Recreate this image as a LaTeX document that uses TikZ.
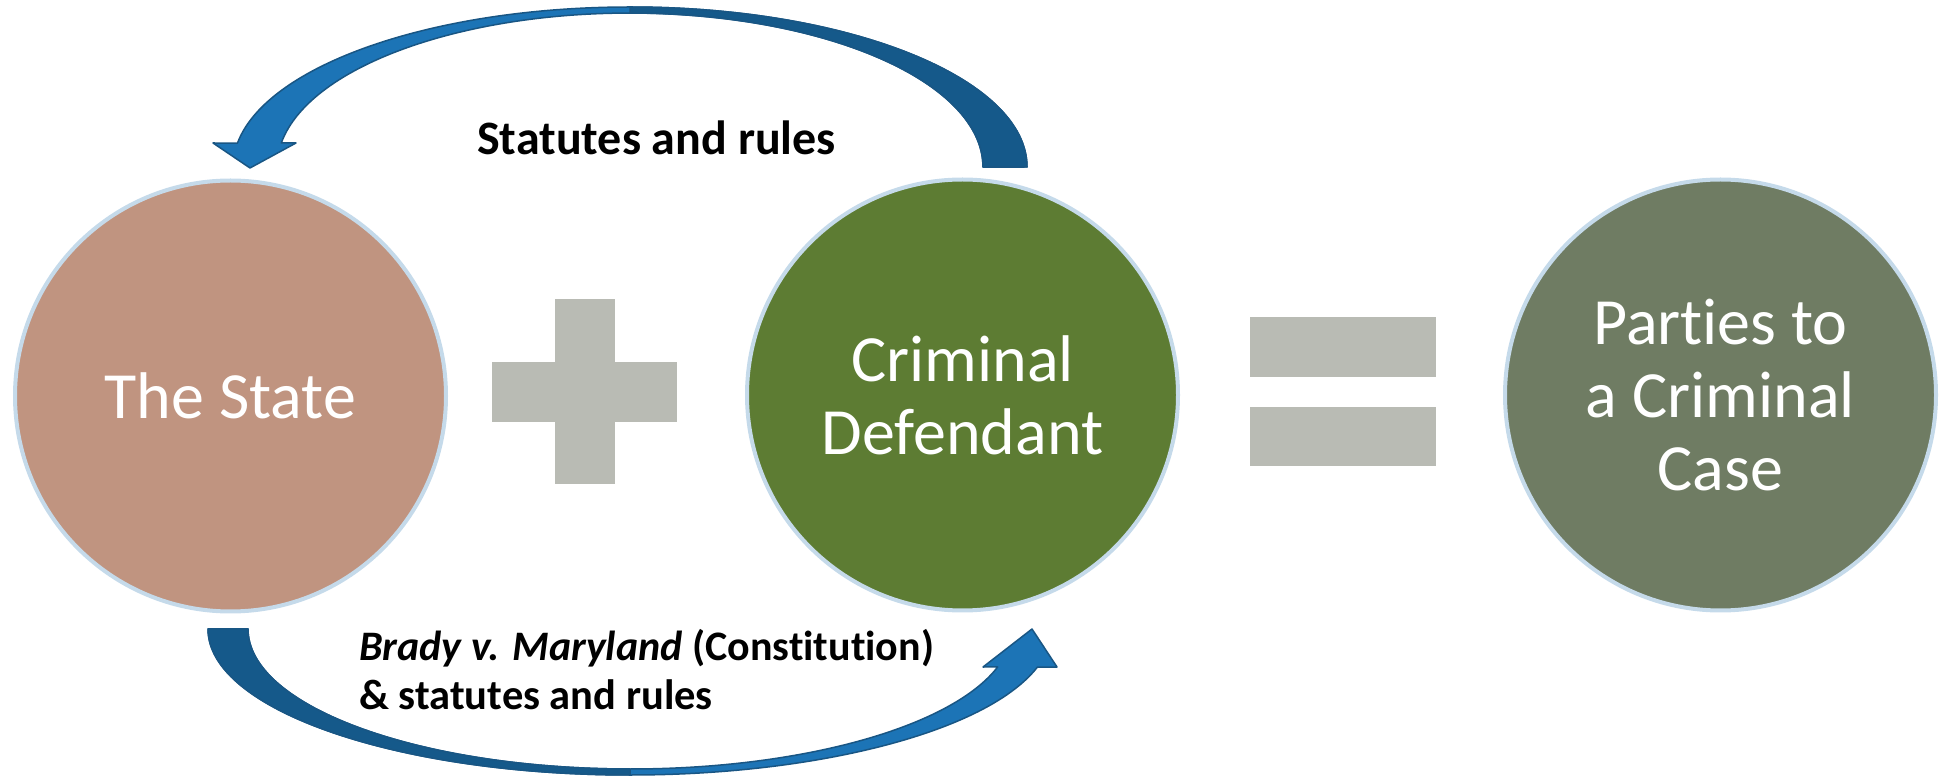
\documentclass[tikz,border=0pt]{standalone}
\usepackage{fontspec}
\setmainfont{Carlito}[Ligatures={NoCommon}]
\definecolor{stateC}{RGB}{192,148,128}
\definecolor{defC}{RGB}{93,124,51}
\definecolor{partyC}{RGB}{111,124,99}
\definecolor{ringC}{RGB}{197,218,234}
\definecolor{signC}{RGB}{185,187,180}
\definecolor{arrowL}{RGB}{28,116,182}
\definecolor{arrowD}{RGB}{21,89,138}
\definecolor{arrowO}{RGB}{25,86,132}
\begin{document}
\begin{tikzpicture}[x=1pt,y=1pt,
  party/.style={circle, draw=ringC, line width=4pt, minimum size=431pt,
    inner sep=0pt, text=white, align=center,
    font=\fontsize{66}{73}\selectfont},
  bandlight/.style={fill=arrowL, draw=arrowO, line width=1.5pt, line join=round},
  banddark/.style={fill=arrowD, draw=arrowO, line width=1.5pt, line join=round},
  caption/.style={inner sep=0pt, anchor=base west, text=black}
]
\useasboundingbox (0,0) rectangle (1939,777);

% the three parties
\node[party, fill=stateC]  (state)   at (230.5,381) {The State};
\node[party, fill=defC]    (def)     at (962.5,382) {Criminal\\Defendant};
\node[party, fill=partyC]  (parties) at (1720.5,382) {Parties to\\a Criminal\\Case};

% plus sign
\fill[signC] (555,293) rectangle (615,478);
\fill[signC] (492,355) rectangle (677,415);
% equals sign
\fill[signC] (1250,400) rectangle (1436,460);
\fill[signC] (1250,311) rectangle (1436,370);

% upper curved arrow: defendant -> state
\path[bandlight] (1027,610)
  arc[start angle=0, end angle=171.4, x radius=397, y radius=160]
  -- (213,634) -- (250,609) -- (296,634) -- (281.3,634)
  arc[start angle=171, end angle=0, x radius=353, y radius=154] -- cycle;
\path[banddark] (1027,610)
  arc[start angle=0, end angle=90, x radius=397, y radius=160]
  -- (630,764)
  arc[start angle=90, end angle=0, x radius=353, y radius=154] -- cycle;

% lower curved arrow: state -> defendant
\path[bandlight] (248,148)
  arc[start angle=180, end angle=344.25, x radius=382, y radius=140]
  -- (983,110) -- (1032,148) -- (1057,110) -- (1037.5,110)
  arc[start angle=344.9, end angle=180, x radius=422, y radius=146] -- cycle;
\path[banddark] (248,148)
  arc[start angle=180, end angle=270, x radius=382, y radius=140]
  -- (630,2)
  arc[start angle=270, end angle=180, x radius=422, y radius=146] -- cycle;

% arrow labels
\node[caption, font=\bfseries\fontsize{48}{56}\selectfont] (toplabel) at (477,622) {Statutes and rules};
\node[caption, font=\bfseries\fontsize{42}{50}\selectfont] (brady) at (359,117) {\textit{Brady v. Maryland} (Constitution)};
\node[caption, font=\bfseries\fontsize{42.5}{50}\selectfont] (statutes) at (359,68) {\& statutes and rules};
\end{tikzpicture}
\end{document}
